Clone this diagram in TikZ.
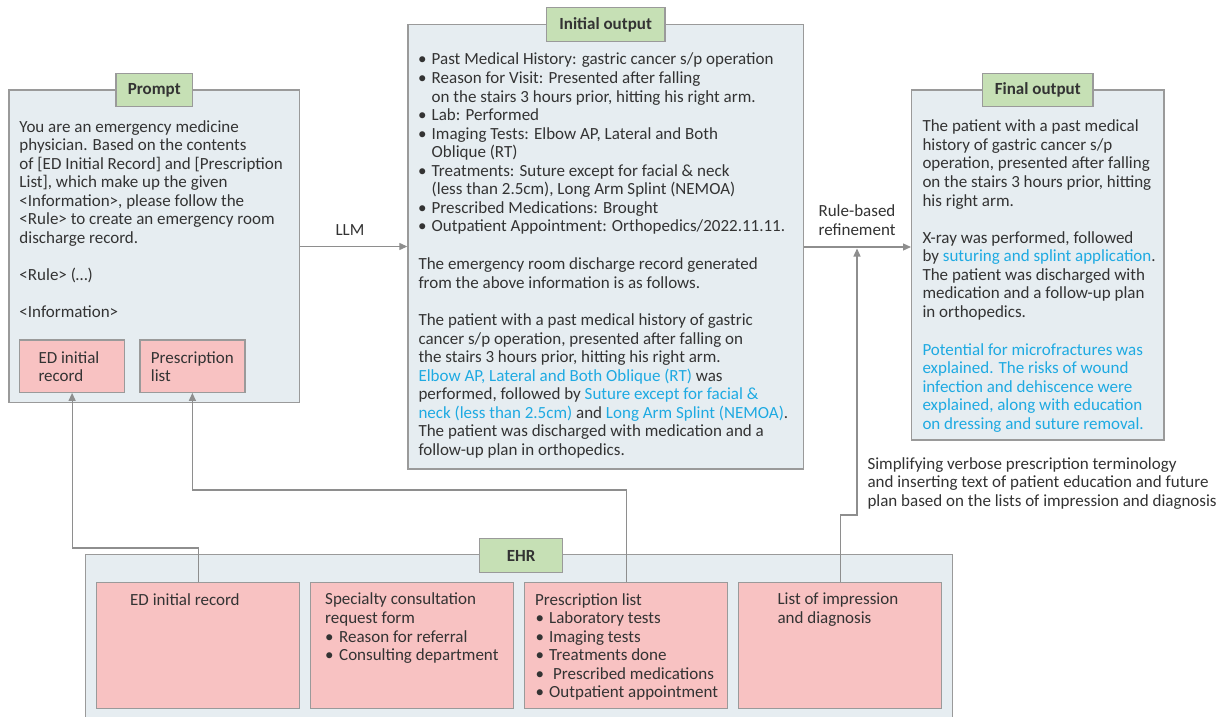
\documentclass[tikz,border=0pt]{standalone}
\usepackage{fontspec}
\setmainfont{Carlito}
\usetikzlibrary{arrows.meta}
\definecolor{boxfill}{HTML}{E6EDF1}
\definecolor{boxline}{HTML}{9A9A9A}
\definecolor{pinkfill}{HTML}{F8C2C2}
\definecolor{tabfill}{HTML}{C6E0B5}
\definecolor{txt}{HTML}{333333}
\definecolor{hl}{HTML}{1EAAE2}
\definecolor{connc}{HTML}{8E8E8E}
\newcommand{\bul}[1][13.5pt]{\makebox[#1][l]{•}}
\newcommand{\hl}[1]{\textcolor{hl}{#1}}
\begin{document}
\begin{tikzpicture}[x=1pt,y=-1pt,
  panel/.style={draw=boxline, fill=boxfill, line width=1.2pt, inner sep=0pt, anchor=north west},
  pinkbox/.style={draw=boxline, fill=pinkfill, line width=1.2pt, inner sep=0pt, anchor=north west},
  tabbox/.style={draw=boxline, fill=tabfill, line width=1.2pt, inner sep=0pt, anchor=north west,
    font=\fontsize{17}{18.55}\selectfont\bfseries, text=txt},
  tx/.style={anchor=base west, inner sep=0pt, align=left, font=\fontsize{17}{18.55}\selectfont, text=txt},
  lbl/.style={anchor=base, inner sep=0pt, align=center, font=\fontsize{17}{18.55}\selectfont, text=txt},
  conn/.style={draw=connc, line width=1.2pt},
  arr/.style={conn, -{Triangle[length=8pt,width=7pt]}}]
\clip (0,0) rectangle (1220,717);
\fill[white] (0,0) rectangle (1220,717);

% (text nodes are placed at the baseline of their LAST line)
% ---------- Prompt ----------
\node[panel, minimum width=290.7pt, minimum height=312.7pt] (prompt) at (8.3,89.3) {};
\node[tabbox, minimum width=76.7pt, minimum height=33.3pt] (ptab) at (115.3,72.7) {Prompt};
\node[tx] (ptxt1) at (19.3,243.3) {You are an emergency medicine\\physician. Based on the contents\\of [ED Initial Record] and [Prescription\\List], which make up the given\\<Information>, please follow the\\<Rule> to create an emergency room\\discharge record.};
\node[tx] (ptxt2) at (19.3,280) {<Rule> (\dots)};
\node[tx] (ptxt3) at (19.3,317.3) {<Information>};
\node[pinkbox, minimum width=105pt, minimum height=52.4pt] (pED) at (19,339.3) {};
\node[tx] (pEDt) at (38.3,381.6) {ED initial\\record};
\node[pinkbox, minimum width=105pt, minimum height=52.4pt] (pPL) at (139.3,339.3) {};
\node[tx] (pPLt) at (150.7,381.6) {Prescription\\list};

% ---------- Initial output ----------
\node[panel, minimum width=395.4pt, minimum height=444pt] (init) at (407.3,24.3) {};
\node[tabbox, minimum width=118.6pt, minimum height=33.4pt] (itab) at (545.7,7.3) {Initial output};
\node[tx] (itxt1) at (418,231.9) {\bul Past Medical History: gastric cancer s/p operation\\
\bul Reason for Visit: Presented after falling\\
\hspace*{13.5pt}on the stairs 3 hours prior, hitting his right arm.\\
\bul Lab: Performed\\
\bul Imaging Tests: Elbow AP, Lateral and Both\\
\hspace*{13.5pt}Oblique (RT)\\
\bul Treatments: Suture except for facial \& neck\\
\hspace*{13.5pt}(less than 2.5cm), Long Arm Splint (NEMOA)\\
\bul Prescribed Medications: Brought\\
\bul Outpatient Appointment: Orthopedics/2022.11.11.};
\node[tx] (itxt2) at (418.3,288.5) {The emergency room discharge record generated\\from the above information is as follows.};
\node[tx] (itxt3) at (418.3,455.5) {The patient with a past medical history of gastric\\
cancer s/p operation, presented after falling on\\
the stairs 3 hours prior, hitting his right arm.\\
\hl{Elbow AP, Lateral and Both Oblique (RT)} was\\
performed, followed by \hl{Suture except for facial \&}\\
\hl{neck (less than 2.5cm)} and \hl{Long Arm Splint (NEMOA)}.\\
The patient was discharged with medication and a\\
follow-up plan in orthopedics.};

% ---------- Final output ----------
\node[panel, minimum width=252.3pt, minimum height=350pt] (final) at (911,89.3) {};
\node[tabbox, minimum width=110.3pt, minimum height=33.3pt] (ftab) at (982,72.7) {Final output};
\node[tx] (ftxt1) at (922.3,206) {The patient with a past medical\\history of gastric cancer s/p\\operation, presented after falling\\on the stairs 3 hours prior, hitting\\his right arm.};
\node[tx] (ftxt2) at (922.3,317.5) {X-ray was performed, followed\\by \hl{suturing and splint application}.\\The patient was discharged with\\medication and a follow-up plan\\in orthopedics.};
\node[tx, text=hl] (ftxt3) at (922.3,429.3) {Potential for microfractures was\\explained. The risks of wound\\infection and dehiscence were\\explained, along with education\\on dressing and suture removal.};

% ---------- EHR ----------
\node[panel, minimum width=867pt, minimum height=180pt] (ehr) at (85,554) {};
\node[tabbox, minimum width=83pt, minimum height=34pt] (etab) at (479,538) {EHR};
\node[pinkbox, minimum width=203pt, minimum height=126pt] (ehr1) at (96,582) {};
\node[pinkbox, minimum width=203pt, minimum height=126pt] (ehr2) at (310,582) {};
\node[pinkbox, minimum width=203pt, minimum height=126pt] (ehr3) at (524,582) {};
\node[pinkbox, minimum width=203pt, minimum height=126pt] (ehr4) at (738,582) {};
\node[tx] (e1t) at (130,605) {ED initial record};
\node[tx] (e2t) at (325,660.6) {Specialty consultation\\request form\\\bul[14pt]Reason for referral\\\bul[14pt]Consulting department};
\node[tx] (e3t) at (535,697.8) {Prescription list\\
\hspace*{0.5pt}\bul[13.5pt]Laboratory tests\\
\hspace*{0.5pt}\bul[13.5pt]Imaging tests\\
\hspace*{0.5pt}\bul[13.5pt]Treatments done\\
\hspace*{0.5pt}\bul[17.5pt]Prescribed medications\\
\hspace*{0.5pt}\bul[13.5pt]Outpatient appointment};
\node[tx] (e4t) at (777.3,623.5) {List of impression\\and diagnosis};

% ---------- connectors ----------
\draw[arr] (prompt.east |- 0,246.5) -- (init.west |- 0,246.5);
\node[lbl] (llm) at (350,235) {LLM};
\draw[arr] (init.east |- 0,247) -- (final.west |- 0,247);
\node[lbl] (rbl) at (857,235.5) {Rule-based\\refinement};
\coordinate (rb) at (857,248.5);

\draw[arr] (ehr1.north) -- (ehr1.north |- 0,548) -| (pED.south);
\draw[arr] (ehr3.north) -- (ehr3.north |- 0,490) -| (pPL.south);
\draw[arr] (ehr4.north) -- (ehr4.north |- 0,515) -| (rb);

\node[tx] (note) at (867.3,506.2) {Simplifying verbose prescription terminology\\and inserting text of patient education and future\\plan based on the lists of impression and diagnosis};
\end{tikzpicture}
\end{document}
